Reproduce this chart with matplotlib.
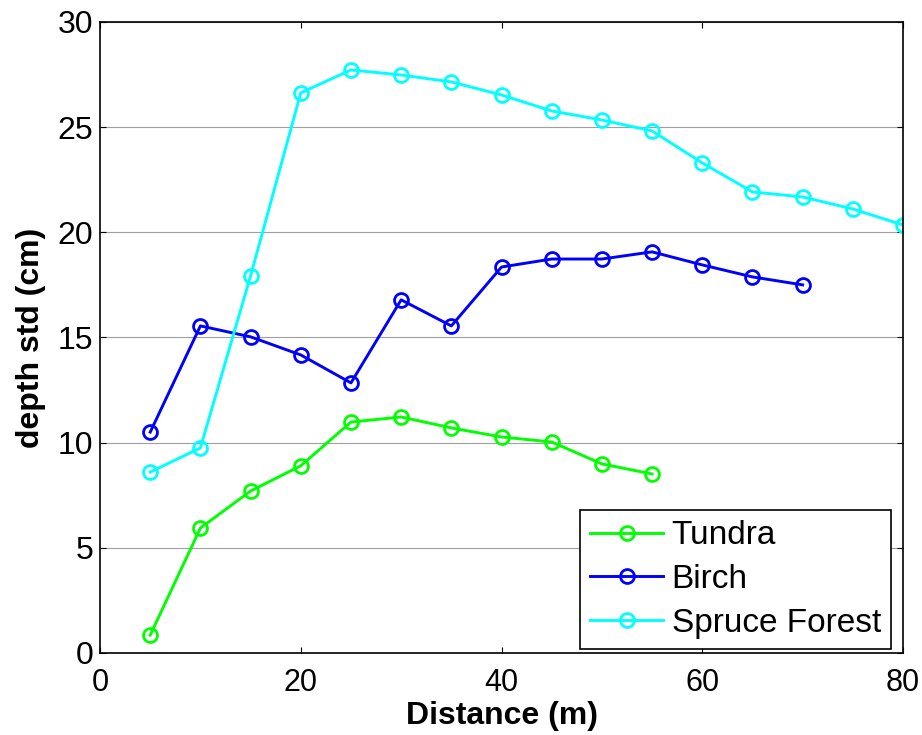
import numpy as np
import matplotlib
matplotlib.use('Agg')
import matplotlib.pyplot as plt

plt.rcParams['font.family'] = ['Liberation Sans', 'DejaVu Sans']

# data
tundra_x = [5, 10, 15, 20, 25, 30, 35, 40, 45, 50, 55]
tundra_y = [0.85, 5.94, 7.7, 8.9, 10.98, 11.22, 10.7, 10.27, 10.03, 8.99, 8.51]

birch_x = [5, 10, 15, 20, 25, 30, 35, 40, 45, 50, 55, 60, 65, 70]
birch_y = [10.5, 15.55, 15.03, 14.17, 12.84, 16.79, 15.55, 18.35, 18.73, 18.73,
           19.07, 18.45, 17.88, 17.5]

spruce_x = [5, 10, 15, 20, 25, 30, 35, 40, 45, 50, 55, 60, 65, 70, 75, 80]
spruce_y = [8.6, 9.75, 17.93, 26.63, 27.72, 27.48, 27.15, 26.53, 25.77, 25.34,
            24.82, 23.3, 21.92, 21.68, 21.11, 20.35]

x_ticks = [0, 20, 40, 60, 80]
y_ticks = [0, 5, 10, 15, 20, 25, 30]

fig = plt.figure(figsize=(9.22, 7.35), dpi=100)
ax = fig.add_axes([0.1085, 0.1116, 0.8709, 0.8585])

style = dict(marker='o', markerfacecolor='none', markersize=10,
             markeredgewidth=2, linewidth=2.1)
ax.plot(tundra_x, tundra_y, color='#00ff00', label='Tundra', **style)
ax.plot(birch_x, birch_y, color='#0000ff', label='Birch', **style)
ax.plot(spruce_x, spruce_y, color='#00ffff', label='Spruce Forest', **style)

ax.set_xlim(0, 80)
ax.set_ylim(0, 30)
ax.set_xticks(x_ticks)
ax.set_yticks(y_ticks)
ax.yaxis.grid(True, color='#a0a0a0', linewidth=0.8)
ax.set_axisbelow(True)
ax.tick_params(direction='in', length=4, top=True, right=True)
ax.tick_params(axis='x', labelsize=22, pad=11)
ax.tick_params(axis='y', labelsize=23, pad=5)
for s in ax.spines.values():
    s.set_linewidth(1.2)

ax.set_xlabel('Distance (m)', fontsize=23, fontweight='bold', labelpad=2)
ax.set_ylabel('depth std (cm)', fontsize=23, fontweight='bold', labelpad=8)

leg = ax.legend(loc='lower right', bbox_to_anchor=(0.985, 0.007), fontsize=24,
                fancybox=False, edgecolor='black', framealpha=1,
                handlelength=2.2, handletextpad=0.25, borderpad=0.3,
                labelspacing=0.38, borderaxespad=0)
leg.get_frame().set_linewidth(1.2)

fig.savefig('out.png', dpi=100)
